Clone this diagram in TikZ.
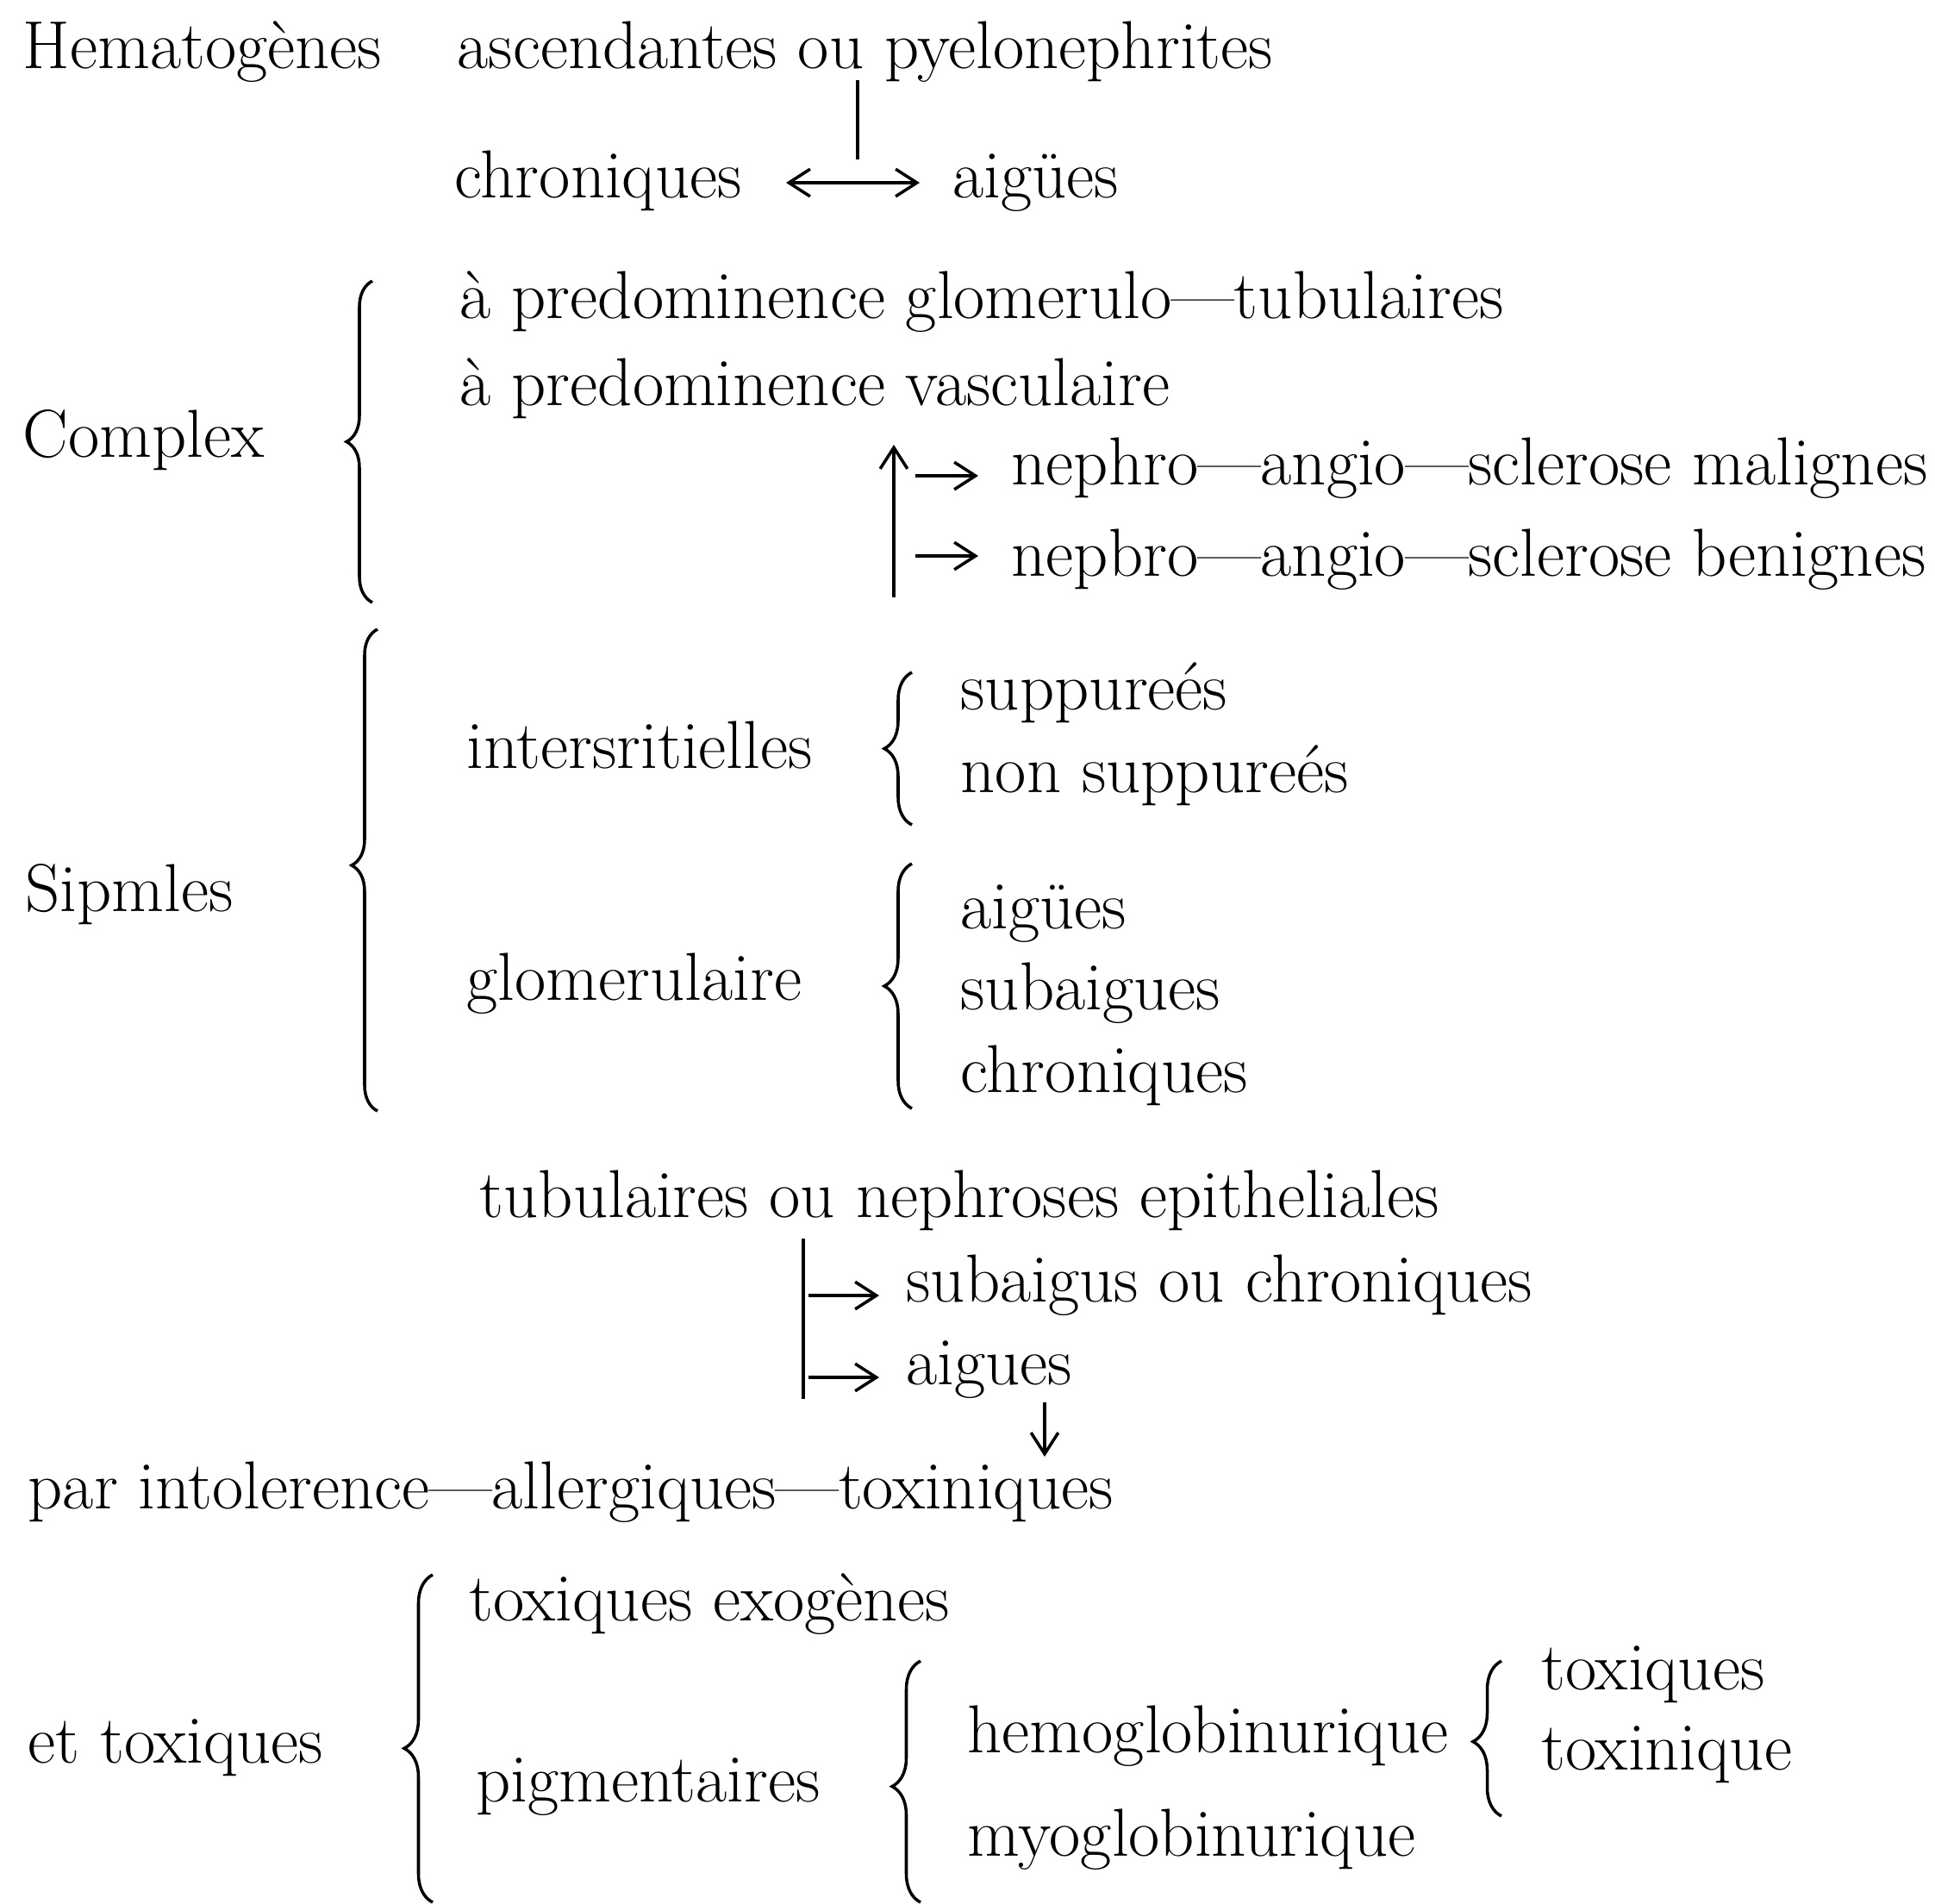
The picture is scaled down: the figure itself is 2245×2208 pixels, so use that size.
\documentclass[tikz,border=0pt]{standalone}
\usetikzlibrary{decorations.pathreplacing,arrows.meta}
\begin{document}
\begin{tikzpicture}[x=0.01cm,y=-0.01cm,
  txt/.style={anchor=base west,inner sep=0pt,font=\fontsize{22.4}{26}\selectfont},
  brc/.style={decorate,decoration={brace,amplitude=#1},line width=1pt},
  ln/.style={line width=1pt},
  arr/.style={line width=1pt,-{Straight Barb[length=7pt,width=9pt]}},
  darr/.style={line width=1pt,{Straight Barb[length=7pt,width=9pt]}-{Straight Barb[length=7pt,width=9pt]}}]
\useasboundingbox (0,0) rectangle (2245,2208);
% --- Hematogenes
\node[txt] (hem) at (26,79) {Hematogènes};
\node[txt] (asc) at (530,79) {ascendantes ou pyelonephrites};
\node[txt] (chr1) at (527,229) {chroniques};
\node[txt] (aig1) at (1105,229) {aigües};
\coordinate (ouA) at (995,93);
\coordinate (ouB) at (995,185);
\coordinate (dL) at (912,212);
\coordinate (dR) at (1067,212);
\draw[ln] (ouA) -- (ouB);
\draw[darr] (dL) -- (dR);
% --- Complex
\node[txt] (cpx) at (26,530) {Complex};
\node[txt] (glt) at (533,369) {à predominence glomerulo—tubulaires};
\node[txt] (vas) at (533,470) {à predominence vasculaire};
\node[txt] (mal) at (1173,562) {nephro—angio—sclerose malignes};
\node[txt] (ben) at (1173,668) {nepbro—angio—sclerose benignes};
\coordinate (b1a) at (432,699);
\coordinate (b1b) at (432,326);
\draw[brc=0.3cm] (b1a) -- (b1b);
\coordinate (vB) at (1037,693);
\coordinate (vT) at (1037,516);
\draw[arr] (vB) -- (vT);
\coordinate (m1) at (1062,552);
\coordinate (m2) at (1135,552);
\coordinate (n1) at (1062,645);
\coordinate (n2) at (1135,645);
\draw[arr] (m1) -- (m2);
\draw[arr] (n1) -- (n2);
% --- Simples
\node[txt] (sip) at (29,1057) {Sipmles};
\node[txt] (int) at (541,891) {intersritielles};
\node[txt] (sup) at (1114,823) {suppureés};
\node[txt] (nsup) at (1114,919) {non suppureés};
\node[txt] (glo) at (541,1160) {glomerulaire};
\node[txt] (aig2) at (1114,1077) {aigües};
\node[txt] (sub) at (1114,1171) {subaigues};
\node[txt] (chr2) at (1114,1267) {chroniques};
\coordinate (b2a) at (438,1289);
\coordinate (b2b) at (438,730);
\draw[decorate,decoration={brace,amplitude=0.3cm,aspect=0.51},line width=1pt] (b2a) -- (b2b);
\coordinate (b3a) at (1058,957);
\coordinate (b3b) at (1058,780);
\draw[brc=0.32cm] (b3a) -- (b3b);
\coordinate (b4a) at (1058,1286);
\coordinate (b4b) at (1058,1002);
\draw[brc=0.32cm] (b4a) -- (b4b);
% --- tubulaires
\node[txt] (tub) at (556,1412) {tubulaires ou nephroses epitheliales};
\node[txt] (sgc) at (1051,1510) {subaigus ou chroniques};
\node[txt] (aig3) at (1051,1606) {aigues};
\coordinate (tA) at (932,1437);
\coordinate (tB) at (932,1623);
\draw[ln] (tA) -- (tB);
\coordinate (s1) at (938,1503);
\coordinate (s2) at (1020,1503);
\coordinate (s3) at (938,1598);
\coordinate (s4) at (1020,1598);
\draw[arr] (s1) -- (s2);
\draw[arr] (s3) -- (s4);
\coordinate (dA) at (1212,1627);
\coordinate (dB) at (1212,1690);
\draw[arr] (dA) -- (dB);
\node[txt] (par) at (32,1750) {par intolerence—allergiques—toxiniques};
% --- et toxiques
\node[txt] (etx) at (32,2045) {et toxiques};
\node[txt] (tex) at (544,1880) {toxiques exogènes};
\node[txt] (pig) at (552,2090) {pigmentaires};
\node[txt] (hgb) at (1122,2033) {hemoglobinurique};
\node[txt] (mgb) at (1122,2153) {myoglobinurique};
\node[txt] (txq) at (1788,1960) {toxiques};
\node[txt] (txn) at (1788,2053) {toxinique};
\coordinate (b5a) at (502,2207);
\coordinate (b5b) at (502,1827);
\draw[decorate,decoration={brace,amplitude=0.33cm,aspect=0.47},line width=1pt] (b5a) -- (b5b);
\coordinate (b6a) at (1068,2207);
\coordinate (b6b) at (1068,1927);
\draw[decorate,decoration={brace,amplitude=0.33cm,aspect=0.48},line width=1pt] (b6a) -- (b6b);
\coordinate (b7a) at (1742,2107);
\coordinate (b7b) at (1742,1927);
\draw[decorate,decoration={brace,amplitude=0.33cm,aspect=0.48},line width=1pt] (b7a) -- (b7b);
\end{tikzpicture}
\end{document}
